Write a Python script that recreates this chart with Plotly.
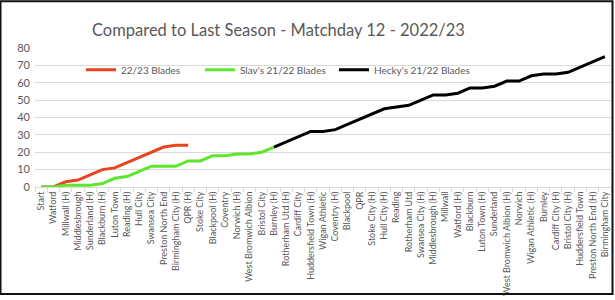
import plotly.graph_objects as go

categories = ["Start", "Watford", "Millwall (H)", "Middlesbrough", "Sunderland (H)", "Blackburn (H)",
              "Luton Town", "Reading (H)", "Hull City", "Swansea City", "Preston North End",
              "Birmingham City (H)", "QPR (H)", "Stoke City", "Blackpool (H)", "Coventry",
              "Norwich (H)", "West Bromwich Albion", "Bristol City", "Burnley (H)",
              "Rotherham Utd (H)", "Cardiff City", "Huddersfield Town (H)", "Wigan Athletic",
              "Coventry (H)", "Blackpool", "QPR", "Stoke City (H)", "Hull City (H)", "Reading",
              "Rotherham Utd", "Swansea City (H)", "Middlesbrough (H)", "Millwall", "Watford (H)",
              "Blackburn", "Luton Town (H)", "Sunderland", "West Bromwich Albion (H)", "Norwich",
              "Wigan Athletic (H)", "Burnley", "Cardiff City (H)", "Bristol City (H)",
              "Huddersfield Town", "Preston North End (H)", "Birmingham City"]

blades_2223 = [0, 0, 3, 4, 7, 10, 11, 14, 17, 20, 23, 24, 24]
slav_2122 = [0, 0, 1, 1, 1, 2, 5, 6, 9, 12, 12, 12, 15, 15, 18, 18, 19, 19, 20, 23]
hecky_2122 = [23, 26, 29, 32, 32, 33, 36, 39, 42, 45, 46, 47, 50, 53, 53, 54, 57, 57, 58,
              61, 61, 64, 65, 65, 66, 69, 72, 75]

W, H = 615, 300
ML, MR, MT, MB = 35, 4, 48, 111
PW, PH = W - ML - MR, H - MT - MB
FONT = "Lato"
GRAY = "#595959"

fig = go.Figure()
fig.add_trace(go.Scatter(x=categories[:len(blades_2223)], y=blades_2223, mode="lines",
                         name="22/23 Blades", line=dict(color="#E8441E", width=3),
                         legend="legend", showlegend=True))
fig.add_trace(go.Scatter(x=categories[:len(slav_2122)], y=slav_2122, mode="lines",
                         name="Slav's 21/22 Blades", line=dict(color="#5EE62C", width=3),
                         legend="legend2", showlegend=True))
start_h = len(slav_2122) - 1
fig.add_trace(go.Scatter(x=categories[start_h:start_h + len(hecky_2122)], y=hecky_2122,
                         mode="lines", name="Hecky's 21/22 Blades",
                         line=dict(color="#000000", width=3), legend="legend3", showlegend=True))

def px_x(p):
    return (p - ML) / PW

def px_y(p):
    return (H - MB - p) / PH

leg_common = dict(orientation="h", yanchor="middle", xanchor="left", y=px_y(70),
                  font=dict(family=FONT, size=10, color=GRAY), bgcolor="rgba(0,0,0,0)")

fig.update_layout(
    width=W, height=H,
    showlegend=True,
    margin=dict(l=ML, r=MR, t=MT, b=MB),
    paper_bgcolor="white", plot_bgcolor="white",
    title=dict(text="Compared to Last Season - Matchday 12 - 2022/23",
               x=92 / W, xanchor="left", xref="container",
               y=1 - 30 / H, yanchor="middle",
               font=dict(family=FONT, size=16.5, color=GRAY)),
    legend=dict(x=px_x(81), **leg_common),
    legend2=dict(x=px_x(200), **leg_common),
    legend3=dict(x=px_x(334), **leg_common),
    xaxis=dict(type="category", categoryorder="array", categoryarray=categories,
               range=[-0.5, len(categories) - 0.5], showgrid=False,
               showline=True, linecolor="#D9D9D9", linewidth=1,
               ticks="outside", tickson="boundaries", ticklen=4, tickcolor="#D9D9D9",
               tickangle=-90, tickfont=dict(family=FONT, size=9, color=GRAY)),
    yaxis=dict(range=[0, 80], dtick=10, showgrid=True, gridcolor="#D9D9D9", gridwidth=1,
               zeroline=False, showline=False, ticks="", ticklabelstandoff=4,
               tickfont=dict(family=FONT, size=11, color=GRAY)),
    shapes=[dict(type="rect", xref="paper", yref="paper",
                 x0=px_x(0.5), x1=px_x(612.5), y0=px_y(297.5), y1=px_y(0.5),
                 line=dict(color="#111111", width=2), fillcolor="rgba(0,0,0,0)", layer="above")],
)

fig.write_html("out.html")
